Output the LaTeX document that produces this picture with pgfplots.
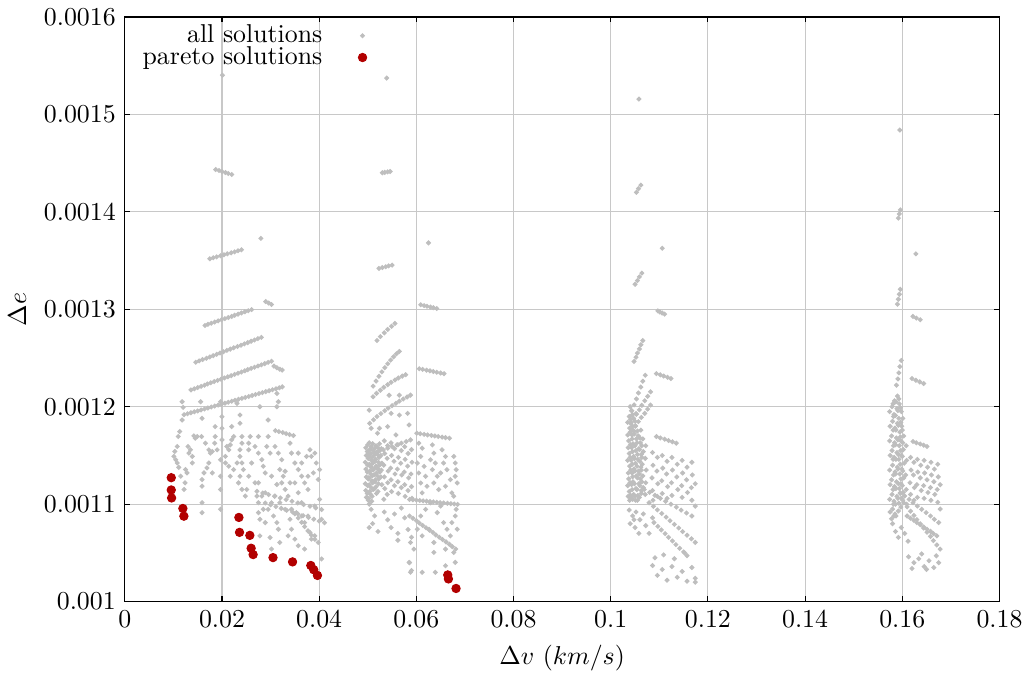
\documentclass[border=0pt]{standalone}
\usepackage{pgfplots}
\pgfplotsset{compat=1.18}
\definecolor{dotgray}{RGB}{190,190,190}
\definecolor{parred}{RGB}{178,0,0}
\definecolor{gridgray}{RGB}{200,200,200}
\pgfplotsset{gp/.style={only marks, mark=*, mark size=0.75pt, color=dotgray, mark options={draw=none, fill=dotgray}}}
\begin{document}
\begin{tikzpicture}
\begin{axis}[
 name=ax,
 width=338.8pt, height=226.5pt, scale only axis,
 xmin=0, xmax=0.18, ymin=0.001, ymax=0.0016,
 xtick={0,0.02,0.04,0.06,0.08,0.1,0.12,0.14,0.16,0.18},
 ytick={0.001,0.0011,0.0012,0.0013,0.0014,0.0015,0.0016},
 scaled x ticks=false, scaled y ticks=false,
 xticklabel style={/pgf/number format/fixed, /pgf/number format/precision=2},
 yticklabel style={/pgf/number format/fixed, /pgf/number format/precision=4},
 grid=major, major grid style={draw=gridgray, line width=0.4pt},
 tick align=inside, major tick length=2pt, tick style={black, line width=0.4pt},
 axis line style={line width=0.5pt},
 xlabel={$\Delta v$ $(km/s)$}, ylabel={$\Delta e$},
 legend plot pos=right, legend cell align=right,
 legend style={at={(rel axis cs:0.286,1.005)}, anchor=north east, draw=none, fill=none, row sep=-4pt, column sep=12pt},
]
% cluster 1 streaks
\addplot[gp] coordinates {
(0.0187,0.0014434) (0.0194,0.0014424) (0.0200,0.0014414) (0.0207,0.0014403) (0.0213,0.0014393) (0.0220,0.0014383)
(0.0201,0.0015402) (0.0280,0.0013728)
(0.0175,0.0013518) (0.0182,0.0013528) (0.0189,0.0013538) (0.0197,0.0013549) (0.0204,0.0013559) (0.0211,0.0013569) (0.0219,0.0013579) (0.0226,0.0013589) (0.0233,0.0013600) (0.0240,0.0013610)
(0.0290,0.0013079) (0.0296,0.0013064) (0.0302,0.0013049)
(0.0165,0.0012834) (0.0171,0.0012846) (0.0178,0.0012857) (0.0185,0.0012869) (0.0192,0.0012881) (0.0199,0.0012892) (0.0206,0.0012904) (0.0213,0.0012915) (0.0220,0.0012927) (0.0226,0.0012939) (0.0233,0.0012950) (0.0240,0.0012962) (0.0247,0.0012974) (0.0254,0.0012985) (0.0261,0.0012997)
(0.0146,0.0012457) (0.0153,0.0012470) (0.0160,0.0012484) (0.0168,0.0012497) (0.0175,0.0012511) (0.0182,0.0012524) (0.0189,0.0012538) (0.0196,0.0012551) (0.0203,0.0012564) (0.0210,0.0012578) (0.0217,0.0012591) (0.0224,0.0012605) (0.0232,0.0012618) (0.0239,0.0012631) (0.0246,0.0012645) (0.0253,0.0012658) (0.0260,0.0012672) (0.0267,0.0012685) (0.0274,0.0012699) (0.0281,0.0012712)
(0.0136,0.0012172) (0.0143,0.0012184) (0.0150,0.0012197) (0.0157,0.0012209) (0.0164,0.0012221) (0.0170,0.0012234) (0.0177,0.0012246) (0.0184,0.0012258) (0.0191,0.0012270) (0.0198,0.0012283) (0.0205,0.0012295) (0.0212,0.0012307) (0.0219,0.0012319) (0.0226,0.0012332) (0.0233,0.0012344) (0.0240,0.0012356) (0.0247,0.0012369) (0.0253,0.0012381) (0.0260,0.0012393) (0.0267,0.0012405) (0.0274,0.0012418) (0.0281,0.0012430) (0.0288,0.0012442) (0.0295,0.0012455) (0.0302,0.0012467)
(0.0307,0.0012417) (0.0313,0.0012400) (0.0319,0.0012385) (0.0324,0.0012376)
(0.0122,0.0011918) (0.0129,0.0011928) (0.0136,0.0011938) (0.0143,0.0011948) (0.0150,0.0011957) (0.0157,0.0011967) (0.0164,0.0011977) (0.0171,0.0011987) (0.0178,0.0011997) (0.0185,0.0012007) (0.0192,0.0012017) (0.0199,0.0012026) (0.0206,0.0012036) (0.0213,0.0012046) (0.0220,0.0012056) (0.0227,0.0012066) (0.0234,0.0012076) (0.0241,0.0012086) (0.0248,0.0012095) (0.0255,0.0012105) (0.0262,0.0012115) (0.0269,0.0012125) (0.0276,0.0012135) (0.0283,0.0012145) (0.0290,0.0012155) (0.0297,0.0012164) (0.0304,0.0012174) (0.0311,0.0012184) (0.0318,0.0012194) (0.0324,0.0012204)
(0.0310,0.0011755) (0.0317,0.0011745) (0.0325,0.0011735) (0.0332,0.0011724) (0.0339,0.0011714) (0.0347,0.0011704)
(0.0272,0.0011132) (0.0284,0.0011115) (0.0296,0.0011098) (0.0308,0.0011081) (0.0320,0.0011064) (0.0332,0.0011047) (0.0344,0.0011030) (0.0356,0.0011013) (0.0368,0.0010996) (0.0381,0.0010979) (0.0393,0.0010962) (0.0405,0.0010945)
(0.0289,0.0011012) (0.0300,0.0010994) (0.0311,0.0010975) (0.0322,0.0010957) (0.0333,0.0010938) (0.0345,0.0010920) (0.0356,0.0010901) (0.0367,0.0010883) (0.0378,0.0010864) (0.0389,0.0010846) (0.0400,0.0010827) (0.0411,0.0010809)
(0.0343,0.0010945) (0.0350,0.0010901) (0.0357,0.0010858) (0.0364,0.0010814) (0.0370,0.0010770) (0.0377,0.0010726) (0.0384,0.0010683) (0.0391,0.0010639)
};
\addlegendentry{all solutions}
% cluster 1 scatter
\addplot[gp, forget plot] coordinates {
(0.0118,0.0012051) (0.0120,0.0011993) (0.0118,0.0011864) (0.0113,0.0011745) (0.0110,0.0011694) (0.0108,0.0011592) (0.0103,0.0011541) (0.0101,0.0011490) (0.0105,0.0011456) (0.0108,0.0011423)
(0.0111,0.0011378) (0.0125,0.0011355) (0.0128,0.0011321) (0.0124,0.0011219) (0.0122,0.0011151) (0.0132,0.0011524) (0.0139,0.0011490) (0.0135,0.0011558) (0.0130,0.0011592) (0.0142,0.0011701)
(0.0145,0.0011677) (0.0149,0.0011694) (0.0156,0.0012051) (0.0159,0.0011881) (0.0158,0.0011694) (0.0166,0.0011626) (0.0173,0.0011558) (0.0176,0.0011524) (0.0180,0.0011541) (0.0186,0.0011694)
(0.0186,0.0011796) (0.0185,0.0011626) (0.0190,0.0011558) (0.0169,0.0011372) (0.0163,0.0011321) (0.0159,0.0011253) (0.0159,0.0011185) (0.0159,0.0011015) (0.0159,0.0010913) (0.0173,0.0011423)
(0.0180,0.0011321) (0.0197,0.0012051) (0.0200,0.0011898) (0.0200,0.0011779) (0.0197,0.0011456) (0.0197,0.0011287) (0.0197,0.0011151) (0.0197,0.0010947) (0.0210,0.0011592) (0.0214,0.0011558)
(0.0217,0.0011609) (0.0220,0.0011660) (0.0224,0.0011694) (0.0207,0.0011490) (0.0207,0.0011423) (0.0214,0.0011389) (0.0217,0.0011287) (0.0220,0.0011796) (0.0231,0.0012034) (0.0237,0.0011915)
(0.0237,0.0011830) (0.0241,0.0011694) (0.0241,0.0011626) (0.0237,0.0011558) (0.0237,0.0011490) (0.0241,0.0011423) (0.0244,0.0011355) (0.0237,0.0011287) (0.0234,0.0011219) (0.0241,0.0011151)
(0.0248,0.0011083) (0.0251,0.0011151) (0.0255,0.0011626) (0.0258,0.0011694) (0.0255,0.0011558) (0.0261,0.0011423) (0.0268,0.0011592) (0.0275,0.0011524) (0.0282,0.0011456) (0.0285,0.0011389)
(0.0289,0.0011321) (0.0295,0.0011694) (0.0292,0.0011592) (0.0299,0.0011524) (0.0275,0.0011694) (0.0278,0.0012000) (0.0275,0.0011219) (0.0272,0.0011083) (0.0275,0.0011015) (0.0275,0.0010913)
(0.0278,0.0010845) (0.0295,0.0011864) (0.0313,0.0012136) (0.0316,0.0012051) (0.0313,0.0012000) (0.0309,0.0011592) (0.0316,0.0011524) (0.0323,0.0011456) (0.0319,0.0011355) (0.0326,0.0011287)
(0.0323,0.0011219) (0.0330,0.0011151) (0.0336,0.0011083) (0.0309,0.0011083) (0.0302,0.0011015) (0.0306,0.0010879) (0.0313,0.0010811) (0.0316,0.0010743) (0.0299,0.0010658) (0.0302,0.0010540)
(0.0319,0.0010607) (0.0336,0.0010675) (0.0343,0.0010743) (0.0340,0.0011626) (0.0343,0.0011524) (0.0350,0.0011423) (0.0357,0.0011355) (0.0364,0.0011287) (0.0350,0.0011219) (0.0357,0.0011117)
(0.0364,0.0011015) (0.0370,0.0011219) (0.0377,0.0011287) (0.0381,0.0011558) (0.0384,0.0011490) (0.0391,0.0011524) (0.0394,0.0011423) (0.0401,0.0011355) (0.0398,0.0011253) (0.0401,0.0011049)
(0.0391,0.0010981) (0.0405,0.0010845) (0.0377,0.0010879) (0.0370,0.0010811) (0.0381,0.0010709) (0.0384,0.0010641) (0.0370,0.0010540) (0.0357,0.0010574) (0.0350,0.0010641) (0.0398,0.0010607)
(0.0405,0.0010438) (0.0391,0.0010675) (0.0364,0.0010879) (0.0353,0.0010913) (0.0343,0.0010947) (0.0340,0.0010845) (0.0330,0.0010947) (0.0319,0.0011015) (0.0289,0.0011117) (0.0282,0.0011083)
(0.0295,0.0010947) (0.0289,0.0010811) (0.0278,0.0010675) (0.0285,0.0010947) (0.0374,0.0011490) (0.0388,0.0011321) (0.0377,0.0011151) (0.0364,0.0011423) (0.0255,0.0011287) (0.0268,0.0011219)
(0.0231,0.0011423) (0.0224,0.0011355) (0.0200,0.0011660) (0.0139,0.0011423) (0.0115,0.0011287) (0.0313,0.0011202) (0.0302,0.0011287) (0.0330,0.0011338) (0.0340,0.0011219) (0.0357,0.0011524)
};
% cluster 2 streaks
\addplot[gp, forget plot] coordinates {
(0.0539,0.0015372)
(0.0530,0.0014401) (0.0535,0.0014405) (0.0541,0.0014410) (0.0546,0.0014414)
(0.0523,0.0013419) (0.0530,0.0013428) (0.0537,0.0013436) (0.0543,0.0013445) (0.0550,0.0013453)
(0.0625,0.0013681)
(0.0609,0.0013046) (0.0616,0.0013038) (0.0622,0.0013031) (0.0629,0.0013023) (0.0635,0.0013016) (0.0642,0.0013008)
(0.0519,0.0012679) (0.0526,0.0012720) (0.0534,0.0012758) (0.0541,0.0012793) (0.0549,0.0012825) (0.0556,0.0012855)
(0.0511,0.0012211) (0.0517,0.0012263) (0.0523,0.0012312) (0.0529,0.0012358) (0.0535,0.0012401) (0.0541,0.0012441) (0.0547,0.0012478) (0.0553,0.0012512) (0.0559,0.0012543) (0.0565,0.0012567)
(0.0511,0.0012102) (0.0518,0.0012137) (0.0526,0.0012169) (0.0533,0.0012199) (0.0541,0.0012226) (0.0548,0.0012251) (0.0556,0.0012274) (0.0563,0.0012295) (0.0571,0.0012314) (0.0578,0.0012329)
(0.0504,0.0011830) (0.0512,0.0011866) (0.0519,0.0011899) (0.0527,0.0011930) (0.0535,0.0011959) (0.0542,0.0011986) (0.0550,0.0012011) (0.0558,0.0012035) (0.0565,0.0012058) (0.0573,0.0012080) (0.0581,0.0012100) (0.0588,0.0012119)
(0.0606,0.0012390) (0.0613,0.0012383) (0.0621,0.0012375) (0.0628,0.0012368) (0.0635,0.0012361) (0.0642,0.0012354) (0.0650,0.0012346) (0.0657,0.0012339)
(0.0601,0.0011728) (0.0608,0.0011722) (0.0616,0.0011717) (0.0623,0.0011711) (0.0631,0.0011705) (0.0638,0.0011700) (0.0645,0.0011694) (0.0653,0.0011688) (0.0660,0.0011683) (0.0668,0.0011677)
(0.0586,0.0011049) (0.0593,0.0011045) (0.0600,0.0011042) (0.0607,0.0011038) (0.0614,0.0011034) (0.0621,0.0011031) (0.0628,0.0011027) (0.0635,0.0011024) (0.0642,0.0011020) (0.0649,0.0011016) (0.0656,0.0011013) (0.0664,0.0011009) (0.0671,0.0011005) (0.0678,0.0011002) (0.0685,0.0010998)
(0.0586,0.0010879) (0.0593,0.0010855) (0.0600,0.0010831) (0.0606,0.0010806) (0.0613,0.0010782) (0.0620,0.0010758) (0.0627,0.0010734) (0.0634,0.0010710) (0.0640,0.0010685) (0.0647,0.0010661) (0.0654,0.0010637) (0.0661,0.0010613) (0.0668,0.0010589) (0.0674,0.0010564) (0.0681,0.0010540)
(0.0503,0.0011507) (0.0513,0.0011524) (0.0522,0.0011541) (0.0532,0.0011558) (0.0541,0.0011575) (0.0550,0.0011592) (0.0560,0.0011609) (0.0569,0.0011626) (0.0579,0.0011643) (0.0588,0.0011660)
};
% cluster 2 block and scatter
\addplot[gp, forget plot] coordinates {
(0.0496,0.001158) (0.0497,0.001150) (0.0495,0.001143) (0.0496,0.001136) (0.0497,0.001128) (0.0495,0.001121) (0.0496,0.001114) (0.0497,0.001107)
(0.0500,0.001161) (0.0499,0.001154) (0.0501,0.001147) (0.0500,0.001140) (0.0499,0.001133) (0.0501,0.001126) (0.0500,0.001119) (0.0499,0.001111) (0.0501,0.001104)
(0.0503,0.001163) (0.0504,0.001156) (0.0502,0.001149) (0.0503,0.001141) (0.0504,0.001134) (0.0502,0.001127) (0.0503,0.001120) (0.0504,0.001113) (0.0502,0.001106) (0.0503,0.001100)
(0.0507,0.001159) (0.0506,0.001152) (0.0508,0.001145) (0.0507,0.001138) (0.0506,0.001131) (0.0508,0.001124) (0.0507,0.001117) (0.0506,0.001110) (0.0508,0.001103)
(0.0510,0.001162) (0.0511,0.001155) (0.0509,0.001148) (0.0510,0.001142) (0.0511,0.001135) (0.0509,0.001129) (0.0510,0.001122) (0.0511,0.001115) (0.0509,0.001108)
(0.0514,0.001157) (0.0513,0.001150) (0.0515,0.001144) (0.0514,0.001137) (0.0513,0.001130) (0.0515,0.001123) (0.0514,0.001116)
(0.0517,0.001160) (0.0518,0.001153) (0.0516,0.001146) (0.0517,0.001139) (0.0518,0.001132) (0.0516,0.001125) (0.0517,0.001118) (0.0518,0.001111)
(0.0521,0.001158) (0.0520,0.001151) (0.0522,0.001143) (0.0521,0.001136) (0.0520,0.001129) (0.0522,0.001121) (0.0521,0.001113)
(0.0524,0.001162) (0.0525,0.001155) (0.0523,0.001148) (0.0524,0.001140) (0.0525,0.001133) (0.0523,0.001126)
(0.0528,0.001157) (0.0527,0.001150) (0.0529,0.001142) (0.0528,0.001135) (0.0527,0.001128) (0.0529,0.001120)
(0.0534,0.001165) (0.0535,0.001152) (0.0533,0.001140) (0.0534,0.001128) (0.0535,0.001116) (0.0533,0.001105)
(0.0541,0.001160) (0.0540,0.001147) (0.0542,0.001134) (0.0541,0.001122) (0.0540,0.001110)
(0.0548,0.001163) (0.0549,0.001150) (0.0547,0.001137) (0.0548,0.001125) (0.0549,0.001113)
(0.0555,0.001157) (0.0554,0.001144) (0.0556,0.001131) (0.0555,0.001119)
(0.0562,0.001161) (0.0563,0.001148) (0.0561,0.001136) (0.0562,0.001123) (0.0563,0.001111)
(0.0569,0.001155) (0.0568,0.001142) (0.0570,0.001130) (0.0569,0.001117)
(0.0576,0.001159) (0.0577,0.001146) (0.0575,0.001133) (0.0576,0.001120) (0.0577,0.001108)
(0.0583,0.001152) (0.0582,0.001139) (0.0584,0.001127) (0.0583,0.001114)
(0.0590,0.001156) (0.0591,0.001143) (0.0589,0.001131) (0.0590,0.001118) (0.0591,0.001106)
(0.0507,0.0010947) (0.0514,0.0010880) (0.0510,0.0010800) (0.0521,0.0010720) (0.0534,0.0010920) (0.0541,0.0010840) (0.0548,0.0010760) (0.0555,0.0010900) (0.0562,0.0010700) (0.0569,0.0010960)
(0.0576,0.0010860) (0.0583,0.0010740) (0.0590,0.0010660) (0.0586,0.0010400) (0.0590,0.0010320) (0.0562,0.0010630) (0.0503,0.0010760)
(0.0507,0.0011779) (0.0524,0.0011779) (0.0541,0.0011796) (0.0548,0.0011932) (0.0565,0.0011914) (0.0582,0.0011932) (0.0565,0.0012118) (0.0544,0.0012118) (0.0558,0.0011711) (0.0585,0.0011813) (0.0520,0.0011728) (0.0503,0.0011965)
(0.0605,0.0011626) (0.0612,0.0011575) (0.0609,0.0011490) (0.0602,0.0011422) (0.0616,0.0011388) (0.0605,0.0011320) (0.0619,0.0011286) (0.0609,0.0011218) (0.0622,0.0011184) (0.0612,0.0011116)
(0.0633,0.0011609) (0.0636,0.0011524) (0.0629,0.0011456) (0.0639,0.0011422) (0.0633,0.0011354) (0.0643,0.0011286) (0.0636,0.0011218) (0.0646,0.0011150) (0.0653,0.0011558) (0.0660,0.0011490)
(0.0656,0.0011422) (0.0663,0.0011354) (0.0650,0.0011320) (0.0670,0.0011252) (0.0660,0.0011184) (0.0673,0.0011116) (0.0677,0.0011490) (0.0680,0.0011422) (0.0682,0.0011354) (0.0680,0.0011286)
(0.0684,0.0011218) (0.0677,0.0011082) (0.0682,0.0010947) (0.0680,0.0010879) (0.0673,0.0010811) (0.0684,0.0010743) (0.0670,0.0010675) (0.0663,0.0010743) (0.0656,0.0010811) (0.0643,0.0010913)
(0.0650,0.0010981) (0.0629,0.0011014) (0.0619,0.0010947) (0.0609,0.0010879) (0.0602,0.0010743) (0.0612,0.0010675) (0.0626,0.0010743) (0.0636,0.0010607) (0.0660,0.0010539) (0.0677,0.0010505)
(0.0680,0.0010403) (0.0660,0.0010369) (0.0639,0.0010301) (0.0612,0.0010301) (0.0588,0.0010301) (0.0585,0.0010403) (0.0595,0.0010539) (0.0588,0.0010607) (0.0636,0.0010505)
};
% cluster 3
\addplot[gp, forget plot] coordinates {
(0.1058,0.0015157)
(0.1053,0.0014200) (0.1057,0.0014237) (0.1062,0.0014274)
(0.1106,0.0013626)
(0.1050,0.0013256) (0.1055,0.0013294) (0.1059,0.0013333) (0.1064,0.0013371)
(0.1097,0.0012984) (0.1101,0.0012973) (0.1106,0.0012961) (0.1111,0.0012950)
(0.1048,0.0012465) (0.1052,0.0012508) (0.1055,0.0012551) (0.1059,0.0012593) (0.1062,0.0012636) (0.1066,0.0012679)
(0.1094,0.0012340) (0.1102,0.0012327) (0.1109,0.0012315) (0.1117,0.0012302) (0.1124,0.0012289)
(0.1039,0.0011898) (0.1043,0.0011959) (0.1048,0.0012019) (0.1053,0.0012080) (0.1057,0.0012141) (0.1062,0.0012202) (0.1066,0.0012262) (0.1071,0.0012323)
(0.1041,0.0011830) (0.1047,0.0011876) (0.1053,0.0011922) (0.1059,0.0011968) (0.1064,0.0012015) (0.1070,0.0012061) (0.1076,0.0012107) (0.1082,0.0012153)
(0.1045,0.0011762) (0.1051,0.0011805) (0.1057,0.0011847) (0.1063,0.0011890) (0.1070,0.0011932) (0.1076,0.0011975) (0.1082,0.0012017)
(0.1094,0.0011694) (0.1102,0.0011680) (0.1111,0.0011667) (0.1119,0.0011653) (0.1127,0.0011640) (0.1135,0.0011626)
(0.1038,0.001190) (0.1039,0.001178) (0.1037,0.001165) (0.1038,0.001152) (0.1039,0.001139) (0.1037,0.001126) (0.1038,0.001113) (0.1039,0.001104)
(0.1043,0.001196) (0.1042,0.001184) (0.1044,0.001171) (0.1043,0.001158) (0.1042,0.001145) (0.1044,0.001132) (0.1043,0.001120) (0.1042,0.001107)
(0.1047,0.001188) (0.1048,0.001175) (0.1046,0.001162) (0.1047,0.001149) (0.1048,0.001136) (0.1046,0.001123) (0.1047,0.001110)
(0.1052,0.001193) (0.1051,0.001180) (0.1053,0.001167) (0.1052,0.001155) (0.1051,0.001142) (0.1053,0.001129) (0.1052,0.001116) (0.1051,0.001104)
(0.1057,0.001170) (0.1058,0.001157) (0.1056,0.001146) (0.1057,0.001134) (0.1058,0.001121) (0.1056,0.001109)
(0.1062,0.001176) (0.1061,0.001163) (0.1063,0.001151) (0.1062,0.001138) (0.1061,0.001126) (0.1063,0.001114)
(0.1066,0.001167) (0.1067,0.001154) (0.1065,0.001141) (0.1066,0.001129) (0.1067,0.001117)
(0.1072,0.001160) (0.1071,0.001147) (0.1073,0.001135) (0.1072,0.001122) (0.1071,0.001110)
(0.1035,0.001184) (0.1035,0.001171) (0.1036,0.001158) (0.1035,0.001145) (0.1036,0.001132) (0.1035,0.001119) (0.1036,0.001108)
(0.1040,0.001200) (0.1041,0.001187) (0.1040,0.001174) (0.1041,0.001161) (0.1040,0.001148) (0.1041,0.001135) (0.1040,0.001122) (0.1041,0.001109)
(0.1045,0.001192) (0.1045,0.001180) (0.1044,0.001167) (0.1045,0.001154) (0.1044,0.001141) (0.1045,0.001128) (0.1044,0.001115) (0.1045,0.001105)
(0.1050,0.001185) (0.1049,0.001172) (0.1050,0.001160) (0.1049,0.001147) (0.1050,0.001134) (0.1049,0.001121) (0.1050,0.001108)
(0.1055,0.001175) (0.1054,0.001163) (0.1055,0.001151) (0.1054,0.001139) (0.1055,0.001127) (0.1054,0.001115) (0.1055,0.001104)
(0.1060,0.001168) (0.1059,0.001156) (0.1060,0.001144) (0.1059,0.001131) (0.1060,0.001119) (0.1059,0.001107)
(0.1064,0.001160) (0.1064,0.001148) (0.1063,0.001135) (0.1064,0.001123) (0.1063,0.001111)
(0.1086,0.001153) (0.1087,0.001140) (0.1085,0.001127) (0.1086,0.001114) (0.1087,0.001104)
(0.1096,0.001148) (0.1095,0.001134) (0.1097,0.001121) (0.1096,0.001108)
(0.1106,0.001150) (0.1107,0.001137) (0.1105,0.001124) (0.1106,0.001111)
(0.1116,0.001144) (0.1115,0.001131) (0.1117,0.001118) (0.1116,0.001106)
(0.1126,0.001148) (0.1127,0.001135) (0.1125,0.001122) (0.1126,0.001109)
(0.1137,0.001141) (0.1136,0.001128) (0.1138,0.001115)
(0.1147,0.001145) (0.1148,0.001132) (0.1146,0.001119) (0.1147,0.001107)
(0.1157,0.001138) (0.1156,0.001125) (0.1158,0.001112)
(0.1167,0.001143) (0.1168,0.001130) (0.1166,0.001117) (0.1167,0.001104)
(0.1174,0.001121) (0.1174,0.001098)
(0.1079,0.0011015) (0.1088,0.0010978) (0.1096,0.0010941) (0.1105,0.0010904) (0.1114,0.0010867) (0.1122,0.0010830) (0.1131,0.0010793) (0.1140,0.0010756) (0.1148,0.0010719) (0.1157,0.0010682) (0.1166,0.0010645) (0.1174,0.0010608)
(0.1089,0.0010811) (0.1097,0.0010773) (0.1104,0.0010736) (0.1112,0.0010698) (0.1119,0.0010660) (0.1127,0.0010623) (0.1134,0.0010585) (0.1142,0.0010547) (0.1150,0.0010510) (0.1157,0.0010472)
(0.1069,0.0011151) (0.1080,0.0011121) (0.1091,0.0011091) (0.1102,0.0011060) (0.1113,0.0011030) (0.1124,0.0011000) (0.1135,0.0010970) (0.1145,0.0010939) (0.1156,0.0010909) (0.1167,0.0010879)
(0.1038,0.0010940) (0.1045,0.0010880) (0.1052,0.0010920) (0.1040,0.0010800) (0.1050,0.0010760) (0.1060,0.0010840) (0.1067,0.0010900) (0.1072,0.0010780) (0.1079,0.0010700) (0.1086,0.0010860) (0.1058,0.0010700) (0.1048,0.0010840)
(0.1086,0.0010370) (0.1096,0.0010270) (0.1106,0.0010330) (0.1116,0.0010220) (0.1126,0.0010360) (0.1137,0.0010250) (0.1147,0.0010310) (0.1157,0.0010210) (0.1167,0.0010350) (0.1174,0.0010240)
(0.1174,0.0010200) (0.1091,0.0010450) (0.1109,0.0010480) (0.1131,0.0010440) (0.1152,0.0010500)
};
% cluster 4
\addplot[gp, forget plot] coordinates {
(0.1595,0.0014839)
(0.1592,0.0013935) (0.1594,0.0013978) (0.1596,0.0014020)
(0.1628,0.0013569)
(0.1590,0.0013052) (0.1592,0.0013103) (0.1594,0.0013154) (0.1596,0.0013205)
(0.1622,0.0012927) (0.1629,0.0012910) (0.1637,0.0012893)
(0.1588,0.0012221) (0.1591,0.0012285) (0.1593,0.0012348) (0.1595,0.0012412) (0.1598,0.0012475)
(0.1620,0.0012289) (0.1628,0.0012272) (0.1636,0.0012255) (0.1644,0.0012238)
(0.1622,0.0011643) (0.1629,0.0011630) (0.1637,0.0011618) (0.1644,0.0011605) (0.1651,0.0011592)
(0.1579,0.001200) (0.1580,0.001185) (0.1578,0.001170) (0.1579,0.001155) (0.1580,0.001140) (0.1578,0.001125) (0.1579,0.001110) (0.1580,0.001095) (0.1578,0.001085)
(0.1584,0.001206) (0.1583,0.001192) (0.1585,0.001178) (0.1584,0.001163) (0.1583,0.001148) (0.1585,0.001133) (0.1584,0.001118) (0.1583,0.001103) (0.1585,0.001090)
(0.1589,0.001198) (0.1590,0.001183) (0.1588,0.001168) (0.1589,0.001153) (0.1590,0.001138) (0.1588,0.001123) (0.1589,0.001108)
(0.1594,0.001203) (0.1593,0.001188) (0.1595,0.001174) (0.1594,0.001160) (0.1593,0.001146) (0.1595,0.001131) (0.1594,0.001116) (0.1593,0.001101)
(0.1598,0.001195) (0.1599,0.001180) (0.1597,0.001165) (0.1598,0.001150) (0.1599,0.001136) (0.1597,0.001121) (0.1598,0.001106)
(0.1603,0.001170) (0.1602,0.001156) (0.1604,0.001142) (0.1603,0.001127) (0.1602,0.001112)
(0.1608,0.001160) (0.1609,0.001145) (0.1607,0.001130) (0.1608,0.001115) (0.1609,0.001100)
(0.1574,0.001195) (0.1575,0.001180) (0.1574,0.001165) (0.1575,0.001150) (0.1574,0.001135) (0.1575,0.001120) (0.1574,0.001105) (0.1575,0.001092)
(0.1581,0.001203) (0.1582,0.001190) (0.1581,0.001176) (0.1582,0.001160) (0.1581,0.001146) (0.1582,0.001130) (0.1581,0.001115) (0.1582,0.001100)
(0.1587,0.001205) (0.1586,0.001191) (0.1587,0.001176) (0.1586,0.001161) (0.1587,0.001146) (0.1586,0.001131) (0.1587,0.001116) (0.1586,0.001100) (0.1587,0.001088)
(0.1591,0.001196) (0.1592,0.001181) (0.1591,0.001166) (0.1592,0.001151) (0.1591,0.001136) (0.1592,0.001121) (0.1591,0.001106) (0.1592,0.001093)
(0.1596,0.001199) (0.1597,0.001184) (0.1596,0.001169) (0.1597,0.001155) (0.1596,0.001141) (0.1597,0.001126) (0.1596,0.001111) (0.1597,0.001097)
(0.1601,0.001188) (0.1600,0.001176) (0.1601,0.001163) (0.1600,0.001149) (0.1601,0.001134) (0.1600,0.001119) (0.1601,0.001104)
(0.1590,0.001211) (0.1593,0.001208)
(0.1617,0.001148) (0.1618,0.001135) (0.1616,0.001122) (0.1617,0.001110)
(0.1624,0.001143) (0.1623,0.001130) (0.1625,0.001117) (0.1624,0.001104)
(0.1631,0.001146) (0.1632,0.001133) (0.1630,0.001120) (0.1631,0.001107)
(0.1638,0.001140) (0.1637,0.001127) (0.1639,0.001114)
(0.1645,0.001145) (0.1646,0.001132) (0.1644,0.001119) (0.1645,0.001106)
(0.1652,0.001138) (0.1651,0.001125) (0.1653,0.001112)
(0.1659,0.001143) (0.1660,0.001130) (0.1658,0.001117) (0.1659,0.001104)
(0.1666,0.001136) (0.1665,0.001123) (0.1667,0.001110)
(0.1673,0.001141) (0.1674,0.001128) (0.1672,0.001115) (0.1673,0.001102)
(0.1678,0.001120) (0.1678,0.001095)
(0.1603,0.0011015) (0.1610,0.0010972) (0.1617,0.0010928) (0.1624,0.0010885) (0.1630,0.0010842) (0.1637,0.0010799) (0.1644,0.0010755) (0.1651,0.0010712) (0.1658,0.0010669) (0.1664,0.0010626) (0.1671,0.0010582) (0.1678,0.0010539)
(0.1610,0.0010879) (0.1617,0.0010856) (0.1624,0.0010834) (0.1630,0.0010811) (0.1637,0.0010789) (0.1644,0.0010766) (0.1651,0.0010743) (0.1658,0.0010721) (0.1664,0.0010698) (0.1671,0.0010675)
(0.1596,0.0011117) (0.1605,0.0011083) (0.1614,0.0011049) (0.1622,0.0011015) (0.1631,0.0010981) (0.1640,0.0010947) (0.1649,0.0010913) (0.1658,0.0010879) (0.1666,0.0010845) (0.1675,0.0010811)
(0.1580,0.0010800) (0.1586,0.0010720) (0.1592,0.0010660) (0.1598,0.0010760) (0.1605,0.0010700) (0.1583,0.0010880) (0.1612,0.0010620)
(0.1613,0.0010460) (0.1624,0.0010400) (0.1634,0.0010440) (0.1645,0.0010360) (0.1655,0.0010420) (0.1665,0.0010350) (0.1675,0.0010400) (0.1620,0.0010340) (0.1650,0.0010330) (0.1670,0.0010470) (0.1640,0.0010490)
};
% pareto
\addplot[only marks, mark=*, mark size=1.6pt, color=parred, mark options={draw=none, fill=parred}] coordinates {
(0.00956,0.0011272) (0.00956,0.0011146) (0.00963,0.0011064) (0.01195,0.0010956) (0.01216,0.0010877) (0.02348,0.0010864) (0.02361,0.0010711) (0.02573,0.0010680) (0.02600,0.0010548) (0.02641,0.0010483)
(0.03050,0.0010452) (0.03452,0.0010408) (0.03828,0.0010371) (0.03889,0.0010327) (0.03964,0.0010269) (0.06646,0.0010274) (0.06660,0.0010233) (0.06817,0.0010135)
};
\addlegendentry{pareto solutions}
\end{axis}
\path ([xshift=-48.3pt,yshift=-27.2pt]ax.south west) rectangle ([xshift=9.6pt,yshift=6.5pt]ax.north east);
\end{tikzpicture}
\end{document}
